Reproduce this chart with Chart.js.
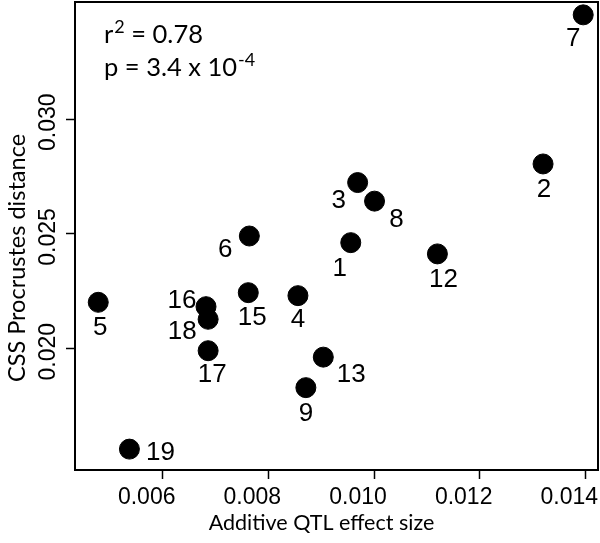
<!DOCTYPE html>
<html><head><meta charset="utf-8">
<script src="https://cdn.jsdelivr.net/npm/chart.js@4"></script>
<style>html,body{margin:0;padding:0;background:#fff}#wrap{width:600px;height:543px;position:relative}</style>
</head><body><div id="wrap"><canvas id="c"></canvas></div>
<script>
// ---- data ----
const cssIds      = ['1','2','3','4','5','6','7','8','9','12','13','15','16','17','18','19'];
const qtlEffect   = [0.00956,0.01320,0.00969,0.00856,0.00478,0.00764,0.01396,0.01001,0.00871,0.01120,0.00904,0.00762,0.00682,0.00686,0.00686,0.00537];
const procrustes  = [0.02462,0.02805,0.02724,0.02231,0.02202,0.02491,0.03455,0.02643,0.01830,0.02413,0.01963,0.02244,0.02183,0.01991,0.02128,0.01562];
const xTickValues = [0.006,0.008,0.010,0.012,0.014];
const yTickValues = [0.020,0.025,0.030];
const xTitle = 'Additive QTL effect size';
const yTitle = 'CSS Procrustes distance';
const rSquared = '0.78';
const pMantissa = '3.4 x 10';
const pExponent = '-4';

// label placement (pixel offsets of each id label from its point)
const labelOffsets = [[-11,25],[1,25],[-19,17],[0,23],[2,25],[-24,13],[-10,23],[22,18],[0,25],[6,25],[28,17],[4,24],[-24,-7],[4,23],[-26,12],[31,3]];

const points = qtlEffect.map((x,i)=>({x:x,y:procrustes[i]}));

const boxPlugin = {
  id:'box',
  afterDraw(chart){
    const {ctx, chartArea:a} = chart;
    ctx.save();
    ctx.strokeStyle='#000'; ctx.lineWidth=2;
    ctx.strokeRect(a.left, a.top, a.right-a.left, a.bottom-a.top);
    // point labels
    const meta = chart.getDatasetMeta(0);
    ctx.fillStyle='#000';
    ctx.font='26px "Liberation Sans", Arial, sans-serif';
    ctx.textAlign='center'; ctx.textBaseline='middle';
    meta.data.forEach((el,i)=>{
      const o = labelOffsets[i];
      ctx.fillText(cssIds[i], el.x+o[0], el.y+o[1]+1);
    });
    // axis titles
    ctx.font='21.5px Lato, "Open Sans", sans-serif';
    ctx.fillText(xTitle, (a.left+a.right)/2-15, 523);
    ctx.save();
    ctx.translate(17, (a.top+a.bottom)/2+22);
    ctx.rotate(-Math.PI/2);
    ctx.font='23.5px Lato, "Open Sans", sans-serif';
    ctx.fillText(yTitle, 0, 0);
    ctx.restore();
    // statistics annotation
    ctx.textAlign='left'; ctx.textBaseline='alphabetic';
    const x0 = a.left+29;
    let y1 = a.top+41;
    const big='25.5px Lato, "Open Sans", sans-serif', small='18px Lato, "Open Sans", sans-serif';
    ctx.font=big; ctx.fillText('r', x0, y1);
    let x = x0+ctx.measureText('r').width+1;
    ctx.font=small; ctx.fillText('2', x, y1-10);
    x += ctx.measureText('2').width;
    ctx.font=big; ctx.fillText(' = '+rSquared, x, y1);
    let y2 = a.top+74;
    ctx.fillText('p = '+pMantissa, x0, y2);
    x = x0+ctx.measureText('p = '+pMantissa).width+1;
    ctx.font=small; ctx.fillText(pExponent, x, y2-10);
    ctx.restore();
  }
};

const tickFont = {family:'"Liberation Sans", Arial, sans-serif', size:23};

new Chart(document.getElementById('c'), {
  type:'scatter',
  data:{datasets:[{data:points, backgroundColor:'#000', borderColor:'#000', pointRadius:10, pointHoverRadius:10, clip:false}]},
  options:{
    responsive:true, maintainAspectRatio:false, animation:false,
    layout:{autoPadding:false, padding:{top:2,right:2,left:0,bottom:0}},
    plugins:{legend:{display:false}, tooltip:{enabled:false}},
    scales:{
      x:{type:'linear', min:0.00434, max:0.01424,
        afterBuildTicks(s){ s.ticks = xTickValues.map(v=>({value:v})); },
        afterFit(s){ s.height = 73; s.paddingLeft = 0; s.paddingRight = 0; },
        border:{display:false},
        grid:{display:true, drawOnChartArea:false, drawTicks:true, tickLength:9, tickWidth:1.5, tickColor:'#000'},
        ticks:{color:'#000', font:tickFont, padding:5, labelOffset:-16, autoSkip:false, maxRotation:0, minRotation:0,
          callback:v=>v.toFixed(3)},
        title:{display:false}
      },
      y:{type:'linear', min:0.01471, max:0.03511,
        afterBuildTicks(s){ s.ticks = yTickValues.map(v=>({value:v})); },
        afterFit(s){ s.width = 75; s.paddingTop = 0; s.paddingBottom = 0; },
        border:{display:false},
        grid:{display:true, drawOnChartArea:false, drawTicks:true, tickLength:9, tickWidth:1.5, tickColor:'#000'},
        ticks:{color:'#000', font:tickFont, padding:-11, labelOffset:3, autoSkip:false, minRotation:90, maxRotation:90, crossAlign:'center',
          callback:v=>v.toFixed(3)},
        title:{display:false}
      }
    }
  },
  plugins:[boxPlugin]
});
</script>
</body></html>
